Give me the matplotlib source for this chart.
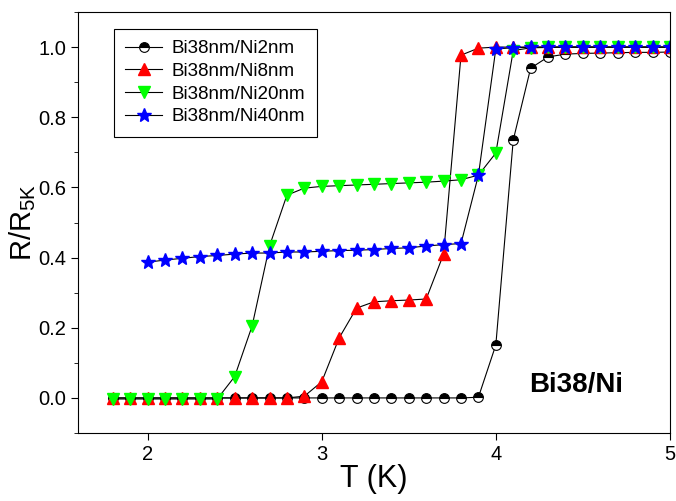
import numpy as np
import matplotlib
matplotlib.use("Agg")
from matplotlib import pyplot as plt
from matplotlib.ticker import MultipleLocator

plt.rcParams['font.family'] = ['Liberation Sans', 'DejaVu Sans']

# temperature grids (K)
t_full = np.round(np.arange(1.8, 5.01, 0.1), 1)
t_ni40 = np.round(np.arange(2.0, 5.01, 0.1), 1)

# normalised resistance R/R5K
r_ni2 = [0.0, 0.0, 0.0, 0.0, 0.0, 0.0, 0.0, 0.0, 0.0, 0.0, 0.0,
         0.0, 0.0, 0.0, 0.0, 0.0, 0.0, 0.0, 0.0, 0.0, 0.0, 0.002,
         0.151, 0.735, 0.94, 0.972, 0.98, 0.982, 0.983, 0.984, 0.985, 0.985, 0.986]
r_ni8 = [0.0, 0.0, 0.0, 0.0, 0.0, 0.0, 0.0, 0.0, 0.0, 0.0, 0.0,
         0.005, 0.046, 0.171, 0.256, 0.274, 0.277, 0.279, 0.282, 0.41, 0.977, 0.997,
         1.0, 1.0, 1.0, 1.0, 1.0, 1.0, 1.0, 1.0, 1.0, 1.0, 1.0]
r_ni20 = [-0.003, -0.003, -0.003, -0.003, -0.003, -0.003, -0.003, 0.061, 0.205, 0.433, 0.578,
          0.598, 0.603, 0.605, 0.607, 0.609, 0.611, 0.613, 0.615, 0.618, 0.622, 0.635,
          0.698, 0.99, 0.998, 0.999, 1.0, 1.0, 1.0, 1.0, 1.0, 1.0, 1.0]
r_ni40 = [0.387, 0.393, 0.398, 0.403, 0.406, 0.41, 0.413, 0.413, 0.416, 0.416, 0.418,
          0.42, 0.421, 0.423, 0.426, 0.428, 0.433, 0.437, 0.44, 0.635, 0.995,
          0.998, 1.0, 1.0, 1.0, 1.0, 1.0, 1.0, 1.0, 1.0, 1.0]

fig = plt.figure(figsize=(6.76, 5.01), dpi=100)
ax = fig.add_axes([0.1154, 0.1357, 0.8756, 0.8403])

ax.plot(t_full, r_ni2, color='black', lw=0.8, marker='o', ms=7,
        fillstyle='top', markerfacecolor='black', markerfacecoloralt='white',
        markeredgecolor='black', markeredgewidth=0.8, label='Bi38nm/Ni2nm')
ax.plot(t_full, r_ni8, color='black', lw=0.8, marker='^', ms=8.5,
        markerfacecolor='red', markeredgecolor='red', label='Bi38nm/Ni8nm')
ax.plot(t_full, r_ni20, color='black', lw=0.8, marker='v', ms=8.5,
        markerfacecolor='#00ff00', markeredgecolor='#00ff00', label='Bi38nm/Ni20nm')
ax.plot(t_ni40, r_ni40, color='black', lw=0.8, marker='*', ms=10,
        markerfacecolor='blue', markeredgecolor='blue', label='Bi38nm/Ni40nm')

ax.set_xlim(1.6, 5.0)
ax.set_ylim(-0.1, 1.1)
ax.xaxis.set_major_locator(MultipleLocator(1))
ax.yaxis.set_major_locator(MultipleLocator(0.2))
ax.yaxis.set_minor_locator(MultipleLocator(0.1))
ax.yaxis.set_major_formatter(plt.FuncFormatter(lambda v, p: f"{v:.1f}"))
ax.tick_params(which='major', direction='out', length=5, labelsize=14.5)
ax.tick_params(which='minor', direction='out', length=3)

ax.set_xlabel('T (K)', fontsize=22, labelpad=0)
ax.set_ylabel('R/R$_{\\mathregular{5K}}$', fontsize=21, labelpad=0)

leg = ax.legend(loc='upper left', bbox_to_anchor=(0.06, 0.96), fontsize=13.5,
                fancybox=False, edgecolor='black', framealpha=1,
                handlelength=2.0, handletextpad=0.5, borderpad=0.6,
                labelspacing=0.3, borderaxespad=0)
leg.get_frame().set_linewidth(0.8)

ax.text(4.46, 0.037, 'Bi38/Ni', fontsize=20, fontweight='bold', ha='center', va='center')

fig.savefig('out.png', dpi=100)
